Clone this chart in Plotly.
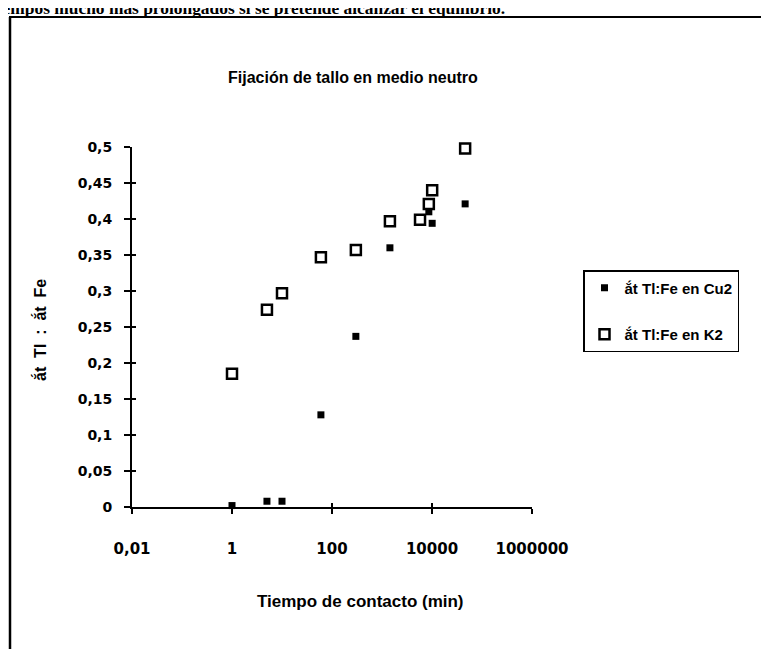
import plotly.graph_objects as go

# ---- data ----
x_cu2 = [1, 5, 10, 60, 300, 1440, 8640, 10080, 46000]
y_cu2 = [0.002, 0.008, 0.008, 0.128, 0.237, 0.360, 0.410, 0.394, 0.421]

x_k2 = [1, 5, 10, 60, 300, 1440, 5760, 8640, 10080, 46000]
y_k2 = [0.185, 0.274, 0.297, 0.347, 0.357, 0.397, 0.399, 0.421, 0.440, 0.498]

x_tickvals = [0.01, 1, 100, 10000, 1000000]
x_ticktext = ["0,01", "1", "100", "10000", "1000000"]
y_tickvals = [0, 0.05, 0.1, 0.15, 0.2, 0.25, 0.3, 0.35, 0.4, 0.45, 0.5]
y_ticktext = ["0", "0,05", "0,1", "0,15", "0,2", "0,25", "0,3", "0,35", "0,4", "0,45", "0,5"]

name_cu2 = "ắt Tl:Fe en Cu2"
name_k2 = "ắt Tl:Fe en K2"
title_text = "Fijación de tallo en medio neutro"
x_title = "Tiempo de contacto (min)"
y_title = "ắt\u00a0 Tl\u00a0 :\u00a0 ắt\u00a0 Fe"
top_text = "tiempos mucho más prolongados si se pretende alcanzar el equilibrio."

OFF = 8  # page body margin
W, H = 769 - OFF, 649 - OFF
L, T = 132 - OFF, 147 - OFF
PW, PH = 400, 360
R, B = W - L - PW, H - T - PH


def px(xp):
    """page x pixel -> paper coordinate"""
    return (xp - OFF - L) / PW


def py(yp):
    """page y pixel -> paper coordinate"""
    return (T + PH - (yp - OFF)) / PH


BOLD = "Liberation Sans"
fig = go.Figure()

fig.add_trace(go.Scatter(
    x=x_cu2, y=y_cu2, mode="markers", name=name_cu2, legendgroup="a", cliponaxis=False,
    marker=dict(symbol="square", size=7, color="black"),
))
fig.add_trace(go.Scatter(
    x=x_k2, y=y_k2, mode="markers", name=name_k2, legendgroup="b", cliponaxis=False,
    marker=dict(symbol="square-open", size=10, color="black", line=dict(width=2.5, color="black")),
))
# empty trace to carry the crossing inner ticks
fig.add_trace(go.Scatter(x=[None], y=[None], xaxis="x2", yaxis="y2", showlegend=False, hoverinfo="skip"))

fig.update_layout(
    width=W, height=H,
    margin=dict(l=L, r=R, t=T, b=B),
    paper_bgcolor="white", plot_bgcolor="white",
    font=dict(family=BOLD, color="black"),
    showlegend=True,
    xaxis=dict(
        type="log", range=[-2, 6], tickvals=x_tickvals, ticktext=x_ticktext,
        ticks="outside", ticklen=5, tickwidth=2, tickcolor="black",
        showline=True, linewidth=2, linecolor="black", showgrid=False, zeroline=False,
        tickfont=dict(family="DejaVu Sans", size=15, color="black", weight="bold"),
        ticklabelstandoff=22, automargin=False,
    ),
    xaxis2=dict(
        type="log", range=[-2, 6], tickvals=x_tickvals, overlaying="x", anchor="y2",
        ticks="inside", ticklen=4, tickwidth=2, tickcolor="black", side="bottom",
        showticklabels=False, showline=False, showgrid=False, zeroline=False,
    ),
    yaxis=dict(
        range=[0, 0.5], tickvals=y_tickvals, ticktext=y_ticktext,
        ticks="outside", ticklen=6, tickwidth=2, tickcolor="black",
        showline=True, linewidth=2, linecolor="black", showgrid=False, zeroline=False,
        tickfont=dict(family="DejaVu Sans", size=14, color="black", weight="bold"),
        ticklabelstandoff=9, automargin=False,
    ),
    yaxis2=dict(
        range=[0, 0.5], tickvals=y_tickvals, overlaying="y", anchor="x2", side="left",
        ticks="inside", ticklen=4, tickwidth=2, tickcolor="black",
        showticklabels=False, showline=False, showgrid=False, zeroline=False,
    ),
    legend=dict(
        x=px(583), y=py(270), xanchor="left", yanchor="top",
        bordercolor="black", borderwidth=1.5, bgcolor="white",
        font=dict(family=BOLD, size=15, color="black", weight="bold"),
        traceorder="grouped", tracegroupgap=24,
    ),
    annotations=[
        dict(text=title_text, x=px(353), y=py(77), xref="paper", yref="paper",
             showarrow=False, xanchor="center", yanchor="middle",
             font=dict(family=BOLD, size=16, color="black", weight="bold")),
        dict(text=x_title, x=px(360), y=py(601), xref="paper", yref="paper",
             showarrow=False, xanchor="center", yanchor="middle",
             font=dict(family=BOLD, size=17, color="black", weight="bold")),
        dict(text=y_title, x=px(40), y=py(330), xref="paper", yref="paper",
             showarrow=False, xanchor="center", yanchor="middle", textangle=-90,
             font=dict(family=BOLD, size=16, color="black", weight="bold")),
        dict(text=top_text, x=px(507), y=py(OFF), xref="paper", yref="paper",
             showarrow=False, xanchor="right", yanchor="middle",
             font=dict(family="Liberation Serif", size=17.4, color="black", weight="bold")),
    ],
    shapes=[
        dict(type="line", xref="paper", yref="paper", x0=px(9), x1=px(769), y0=py(17), y1=py(17),
             line=dict(color="black", width=2)),
        dict(type="line", xref="paper", yref="paper", x0=px(10), x1=px(10), y0=py(17), y1=py(649),
             line=dict(color="black", width=2.5)),
    ],
)

fig.write_html("out.html")
